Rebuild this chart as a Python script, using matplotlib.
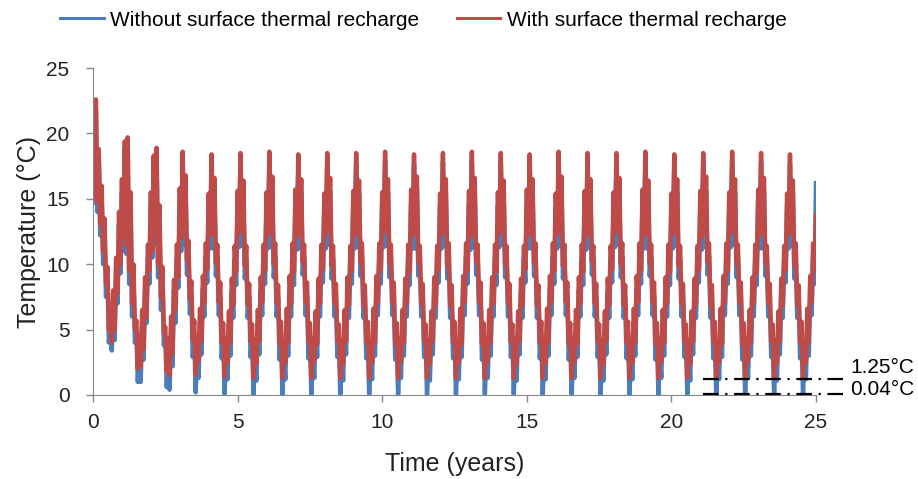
import numpy as np
import matplotlib
matplotlib.use("Agg")
import matplotlib.pyplot as plt

##############################
# Data (one row = one year, 20 samples, 0.05 yr apart)

step_years = 0.05

red_years = [
    [17.0, 15.0, 22.6, 14.8, 18.8, 13.0, 16.0, 11.0, 13.5, 8.5, 9.8, 5.0, 6.5, 4.0, 8.0, 5.0, 10.5, 7.8, 14.0, 10.0],
    [16.5, 12.0, 19.4, 11.5, 19.7, 9.5, 15.5, 7.0, 10.0, 5.0, 5.7, 2.0, 4.6, 2.2, 6.5, 3.5, 9.0, 6.0, 11.5, 9.5],
    [15.5, 11.0, 18.3, 12.5, 18.9, 10.0, 14.5, 7.5, 9.8, 4.8, 5.2, 1.8, 4.3, 1.5, 6.0, 3.2, 8.8, 6.5, 11.5, 9.0],
    [15.8, 12.0, 18.6, 12.8, 16.8, 10.3, 11.8, 7.3, 8.7, 4.2, 5.7, 1.5, 4.4, 2.6, 6.6, 4.1, 9.1, 7.0, 11.6, 9.6],
    [15.4, 12.2, 18.4, 12.4, 16.6, 10.1, 11.5, 7.1, 8.6, 4.0, 5.5, 1.4, 4.3, 2.5, 6.4, 4.0, 8.9, 6.9, 11.4, 9.4],
    [15.6, 12.4, 18.5, 12.6, 16.4, 9.9, 11.4, 6.9, 8.5, 4.1, 5.4, 1.3, 4.2, 2.4, 6.5, 4.1, 9.0, 7.1, 11.5, 9.5],
    [15.5, 12.3, 18.6, 12.5, 16.7, 10.0, 11.6, 7.0, 8.4, 3.9, 5.6, 1.3, 4.1, 2.5, 6.6, 4.0, 9.1, 7.0, 11.6, 9.4],
    [15.7, 12.1, 18.4, 12.4, 16.5, 10.2, 11.5, 7.1, 8.6, 4.0, 5.5, 1.3, 4.3, 2.6, 6.4, 3.9, 8.9, 7.0, 11.5, 9.6],
    [15.4, 12.3, 18.5, 12.7, 16.6, 9.9, 11.4, 7.0, 8.5, 4.1, 5.4, 1.3, 4.2, 2.4, 6.5, 4.1, 9.0, 6.9, 11.4, 9.5],
    [15.6, 12.2, 18.5, 12.5, 16.4, 10.1, 11.6, 6.9, 8.4, 4.0, 5.6, 1.3, 4.1, 2.5, 6.6, 4.0, 9.1, 7.1, 11.6, 9.5],
    [15.5, 12.4, 18.6, 12.6, 16.5, 10.0, 11.5, 7.1, 8.6, 3.9, 5.5, 1.3, 4.3, 2.6, 6.5, 4.0, 8.9, 7.0, 11.5, 9.4],
    [15.7, 12.2, 18.4, 12.4, 16.7, 10.1, 11.4, 7.0, 8.5, 4.1, 5.4, 1.3, 4.2, 2.4, 6.4, 4.1, 9.0, 6.9, 11.4, 9.6],
    [15.4, 12.3, 18.5, 12.6, 16.5, 9.9, 11.6, 6.9, 8.4, 4.0, 5.6, 1.3, 4.1, 2.5, 6.6, 3.9, 9.1, 7.1, 11.6, 9.5],
    [15.6, 12.1, 18.6, 12.5, 16.6, 10.2, 11.5, 7.1, 8.6, 3.9, 5.5, 1.3, 4.3, 2.6, 6.5, 4.0, 9.0, 7.0, 11.5, 9.4],
    [15.5, 12.4, 18.5, 12.7, 16.4, 10.0, 11.4, 7.0, 8.5, 4.1, 5.4, 1.3, 4.2, 2.4, 6.4, 4.1, 8.9, 6.9, 11.4, 9.6],
    [15.7, 12.2, 18.4, 12.4, 16.5, 10.1, 11.6, 6.9, 8.4, 4.0, 5.6, 1.3, 4.1, 2.5, 6.6, 4.0, 9.1, 7.1, 11.6, 9.5],
    [15.4, 12.3, 18.6, 12.6, 16.7, 9.9, 11.5, 7.1, 8.6, 3.9, 5.5, 1.3, 4.3, 2.6, 6.5, 3.9, 9.0, 7.0, 11.5, 9.4],
    [15.6, 12.1, 18.5, 12.5, 16.5, 10.2, 11.4, 7.0, 8.5, 4.1, 5.4, 1.3, 4.2, 2.4, 6.4, 4.1, 8.9, 6.9, 11.4, 9.6],
    [15.5, 12.4, 18.5, 12.7, 16.6, 10.0, 11.6, 6.9, 8.4, 4.0, 5.6, 1.3, 4.1, 2.5, 6.6, 4.0, 9.1, 7.1, 11.6, 9.5],
    [15.7, 12.2, 18.6, 12.4, 16.4, 10.1, 11.5, 7.1, 8.6, 3.9, 5.5, 1.3, 4.3, 2.6, 6.5, 4.0, 9.0, 7.0, 11.5, 9.4],
    [15.4, 12.3, 18.4, 12.6, 16.5, 9.9, 11.4, 7.0, 8.5, 4.1, 5.4, 1.3, 4.2, 2.4, 6.4, 4.1, 8.9, 6.9, 11.4, 9.6],
    [15.6, 12.1, 18.5, 12.5, 16.7, 10.2, 11.6, 6.9, 8.4, 4.0, 5.6, 1.3, 4.1, 2.5, 6.6, 3.9, 9.1, 7.1, 11.6, 9.5],
    [15.5, 12.4, 18.6, 12.7, 16.5, 10.0, 11.5, 7.1, 8.6, 3.9, 5.5, 1.3, 4.3, 2.6, 6.5, 4.0, 9.0, 7.0, 11.5, 9.4],
    [15.7, 12.2, 18.5, 12.4, 16.6, 10.1, 11.4, 7.0, 8.5, 4.1, 5.4, 1.3, 4.2, 2.4, 6.4, 4.1, 8.9, 6.9, 11.4, 9.6],
    [15.4, 12.3, 18.4, 12.6, 16.4, 9.9, 11.6, 6.9, 8.4, 4.0, 5.6, 1.3, 4.1, 2.5, 6.6, 4.0, 9.1, 7.1, 11.6, 9.5],
]
red_end = 13.8

blue_years = [
    [16.0, 14.7, 22.0, 14.0, 18.0, 12.2, 15.0, 10.0, 12.5, 7.5, 9.0, 4.0, 5.5, 3.4, 7.0, 4.2, 9.5, 7.0, 13.0, 9.3],
    [15.5, 11.0, 18.8, 10.8, 19.0, 8.5, 14.5, 6.0, 9.0, 4.0, 4.8, 1.0, 3.5, 1.0, 5.5, 2.7, 8.0, 5.5, 10.5, 8.5],
    [14.5, 10.5, 17.5, 11.5, 18.0, 9.0, 13.5, 6.5, 9.0, 3.8, 4.5, 0.6, 3.0, 0.4, 5.0, 2.2, 8.0, 5.5, 10.5, 8.2],
    [14.8, 11.0, 17.9, 11.5, 15.9, 9.2, 10.8, 6.2, 7.6, 2.9, 4.6, 0.2, 3.1, 1.3, 5.6, 3.1, 8.1, 6.0, 10.6, 8.6],
    [14.4, 11.2, 17.7, 11.2, 15.6, 9.1, 10.5, 6.1, 7.5, 2.8, 4.5, 0.1, 3.0, 1.2, 5.4, 3.0, 7.9, 5.9, 10.4, 8.4],
    [14.6, 11.3, 17.8, 11.4, 15.4, 8.9, 10.4, 5.9, 7.5, 2.9, 4.4, 0.05, 3.0, 1.1, 5.5, 3.1, 8.0, 6.1, 10.5, 8.5],
    [14.5, 11.2, 17.9, 11.3, 15.7, 9.0, 10.6, 6.0, 7.4, 2.7, 4.6, 0.05, 2.9, 1.2, 5.6, 3.0, 8.1, 6.0, 10.6, 8.4],
    [14.7, 11.1, 17.7, 11.2, 15.5, 9.2, 10.5, 6.1, 7.6, 2.8, 4.5, 0.04, 3.1, 1.3, 5.4, 2.9, 7.9, 6.0, 10.5, 8.6],
    [14.4, 11.2, 17.8, 11.5, 15.6, 8.9, 10.4, 6.0, 7.5, 2.9, 4.4, 0.05, 3.0, 1.1, 5.5, 3.1, 8.0, 5.9, 10.4, 8.5],
    [14.6, 11.2, 17.8, 11.3, 15.4, 9.1, 10.6, 5.9, 7.4, 2.8, 4.6, 0.04, 2.9, 1.2, 5.6, 3.0, 8.1, 6.1, 10.6, 8.5],
    [14.5, 11.3, 17.9, 11.4, 15.5, 9.0, 10.5, 6.1, 7.6, 2.7, 4.5, 0.05, 3.1, 1.3, 5.5, 3.0, 7.9, 6.0, 10.5, 8.4],
    [14.7, 11.2, 17.7, 11.2, 15.7, 9.1, 10.4, 6.0, 7.5, 2.9, 4.4, 0.04, 3.0, 1.1, 5.4, 3.1, 8.0, 5.9, 10.4, 8.6],
    [14.4, 11.2, 17.8, 11.4, 15.5, 8.9, 10.6, 5.9, 7.4, 2.8, 4.6, 0.05, 2.9, 1.2, 5.6, 2.9, 8.1, 6.1, 10.6, 8.5],
    [14.6, 11.1, 17.9, 11.3, 15.6, 9.2, 10.5, 6.1, 7.6, 2.7, 4.5, 0.04, 3.1, 1.3, 5.5, 3.0, 8.0, 6.0, 10.5, 8.4],
    [14.5, 11.3, 17.8, 11.5, 15.4, 9.0, 10.4, 6.0, 7.5, 2.9, 4.4, 0.05, 3.0, 1.1, 5.4, 3.1, 7.9, 5.9, 10.4, 8.6],
    [14.7, 11.2, 17.7, 11.2, 15.5, 9.1, 10.6, 5.9, 7.4, 2.8, 4.6, 0.04, 2.9, 1.2, 5.6, 3.0, 8.1, 6.1, 10.6, 8.5],
    [14.4, 11.2, 17.9, 11.4, 15.7, 8.9, 10.5, 6.1, 7.6, 2.7, 4.5, 0.05, 3.1, 1.3, 5.5, 2.9, 8.0, 6.0, 10.5, 8.4],
    [14.6, 11.1, 17.8, 11.3, 15.5, 9.2, 10.4, 6.0, 7.5, 2.9, 4.4, 0.04, 3.0, 1.1, 5.4, 3.1, 7.9, 5.9, 10.4, 8.6],
    [14.5, 11.3, 17.8, 11.5, 15.6, 9.0, 10.6, 5.9, 7.4, 2.8, 4.6, 0.05, 2.9, 1.2, 5.6, 3.0, 8.1, 6.1, 10.6, 8.5],
    [14.7, 11.2, 17.9, 11.2, 15.4, 9.1, 10.5, 6.1, 7.6, 2.7, 4.5, 0.04, 3.1, 1.3, 5.5, 3.0, 8.0, 6.0, 10.5, 8.4],
    [14.4, 11.2, 17.7, 11.4, 15.5, 8.9, 10.4, 6.0, 7.5, 2.9, 4.4, 0.05, 3.0, 1.1, 5.4, 3.1, 7.9, 5.9, 10.4, 8.6],
    [14.6, 11.1, 17.8, 11.3, 15.7, 9.2, 10.6, 5.9, 7.4, 2.8, 4.6, 0.04, 2.9, 1.2, 5.6, 2.9, 8.1, 6.1, 10.6, 8.5],
    [14.5, 11.3, 17.9, 11.5, 15.5, 9.0, 10.5, 6.1, 7.6, 2.7, 4.5, 0.05, 3.1, 1.3, 5.5, 3.0, 8.0, 6.0, 10.5, 8.4],
    [14.7, 11.2, 17.8, 11.2, 15.6, 9.1, 10.4, 6.0, 7.5, 2.9, 4.4, 0.04, 3.0, 1.1, 5.4, 3.1, 7.9, 5.9, 10.4, 8.6],
    [14.4, 11.2, 17.7, 11.4, 15.4, 8.9, 10.6, 5.9, 7.4, 2.8, 4.6, 0.05, 2.9, 1.2, 5.6, 3.0, 8.1, 6.1, 10.6, 8.5],
]
blue_end = 16.2

ref_levels = [1.25, 0.04]
ref_labels = ["1.25\u00b0C", "0.04\u00b0C"]
x_ticks = [0, 5, 10, 15, 20, 25]
y_ticks = [0, 5, 10, 15, 20, 25]

##############################
# Series

red = np.append(np.concatenate(red_years), red_end)
blue = np.append(np.concatenate(blue_years), blue_end)
t = np.arange(len(red)) * step_years

plt.rcParams['font.family'] = ['Liberation Sans', 'DejaVu Sans']

fig = plt.figure(figsize=(9.18, 4.79), dpi=100)
ax = fig.add_axes([0.1013, 0.1754, 0.7876, 0.6826])

ax.plot(t, blue, color='#4A7EBB', lw=3.2, label='Without surface thermal recharge')
ax.plot(t, red, color='#BE4B48', lw=3.2, label='With surface thermal recharge')

ax.set_xlim(0, 25)
ax.set_ylim(0, 25)
ax.set_xticks(x_ticks)
ax.set_yticks(y_ticks)
ax.tick_params(labelsize=15, color='#868686', length=5, width=1, labelcolor='#222222')
ax.tick_params(axis='x', pad=8)
ax.tick_params(axis='y', pad=12)
for s in ['top', 'right']:
    ax.spines[s].set_visible(False)
for s in ['left', 'bottom']:
    ax.spines[s].set_color('#868686')

ax.set_xlabel('Time (years)', fontsize=18, color='#222222')
ax.set_ylabel('Temperature (\u00b0C)', fontsize=18, color='#222222')
ax.xaxis.set_label_coords(0.5, -0.175)
ax.yaxis.set_label_coords(-0.072, 0.5)

# reference lines for the minimum temperatures
ytext = [2.1, 0.4]
for lev, lab, yt in zip(ref_levels, ref_labels, ytext):
    ax.axhline(lev, xmin=0.844, xmax=1.042, color='black', lw=1.6,
               dashes=(7, 3, 1, 3), clip_on=False, zorder=5)
    ax.text(1.047, yt, lab, transform=ax.get_yaxis_transform(),
            ha='left', va='center', fontsize=15)

leg = fig.legend(loc='upper left', bbox_to_anchor=(0.0654, 0.978), ncol=2, frameon=False,
                 fontsize=15, handlelength=2.1, handletextpad=0.3, columnspacing=1.8,
                 borderpad=0, borderaxespad=0)
for h in leg.get_lines():
    h.set_linewidth(2.2)

fig.savefig('out.png', dpi=100)
